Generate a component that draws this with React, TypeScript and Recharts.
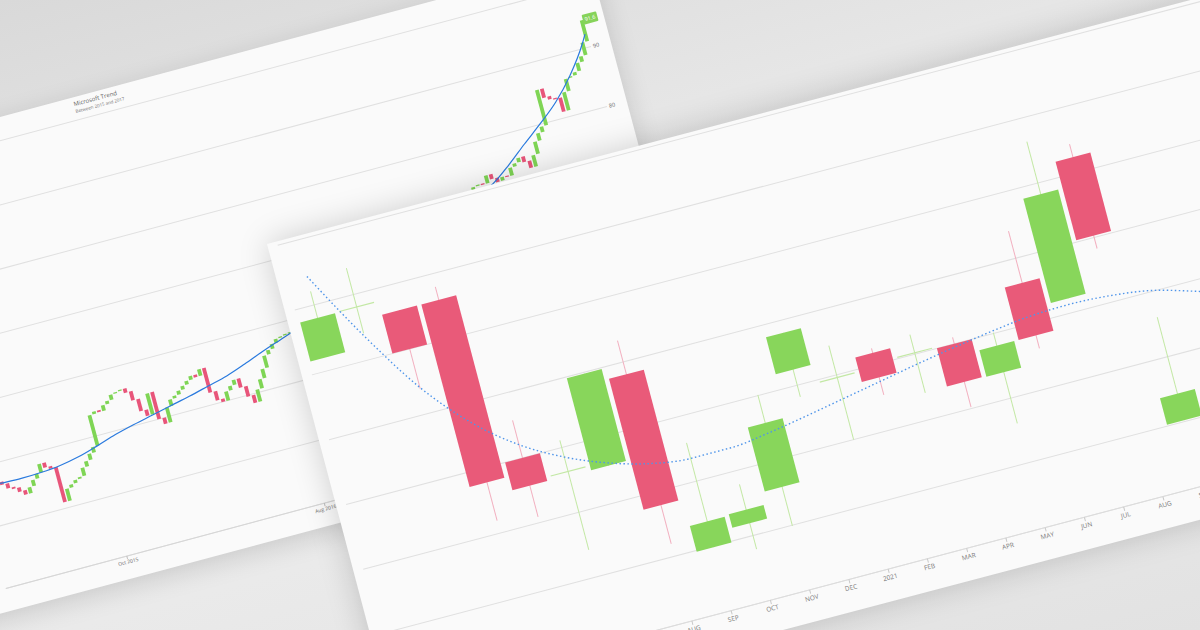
import React from 'react';
import { ComposedChart, Bar, Line, XAxis, YAxis, CartesianGrid, ReferenceLine } from 'recharts';

// ---- front chart: monthly candles, Jan 2020 .. Dec 2021 ----
const frontLabels = ['2020', 'FEB', 'MAR', 'APR', 'MAY', 'JUN', 'JUL', 'AUG', 'SEP', 'OCT', 'NOV', 'DEC',
  '2021', 'FEB', 'MAR', 'APR', 'MAY', 'JUN', 'JUL', 'AUG', 'SEP', 'OCT', 'NOV', 'DEC'];
const frontOpen = [52, 58.1, 56, 56, 30, 26.3, 25.6, 38.1, 9.8, 11.9, 15.9, 32.4, 29.6, 31.8, 30.2, 30, 24, 36.2, 32.2, 52.4, 10.2, null, null, null];
const frontClose = [58, 58.1, 50, 27.8, 25.7, 26.3, 39.8, 17.9, 13.8, 14, 25.8, 38.1, 29.6, 28, 30.2, 24.1, 28.1, 28.1, 48.3, 40.3, 14.3, null, null, null];
const frontHigh = [62.1, 64.1, 56, 58, 35.8, 31.1, 39.8, 43.3, 25.9, 17.9, 30.1, 38.1, 34.5, 32.5, 33, 31, 30.1, 44.2, 56.4, 54.4, 26.1, null, null, null];
const frontLow = [52, 54, 43.9, 21.9, 20.9, 14.2, 25.6, 11.9, 9.8, 7.9, 9.9, 28.2, 20, 25.3, 24, 20.2, 16.1, 26.1, 32.2, 38.3, 10.2, null, null, null];
const frontTrend = [64.4, 53.5, 44, 37, 32, 28.5, 26, 24.3, 23.5, 23.5, 24.2, 25.2, 26.3, 27.4, 28.5, 29.5, 30.4, 31.1, 31.3, 31, 30.2, 28.5, 26.5, 24];
const frontYTicks = [0, 10, 20, 30, 40, 50, 60, 70];

// ---- back chart: Microsoft, weekly closes (4 per month) from Apr 2015 ----
const backClose = [
  47.5, 46.5, 46.0, 46.8, 46.3, 45.5, 45.2, 44.5, 43.8, 44.8, 45.8, 46.6,
  48.0, 47.2, 46.8, 41.0, 43.0, 43.5, 44.0, 44.3, 45.6, 46.5, 47.5, 48.4,
  53.5, 53.9, 53.6, 54.5, 55.0, 55.8, 56.0, 56.2, 55.5, 54.0, 52.0, 51.0,
  54.5, 50.0, 49.0, 51.5, 52.6, 53.0, 53.6, 54.2, 54.8, 55.4, 55.0, 56.1,
  52.0, 50.5, 50.0, 51.5, 52.2, 53.0, 51.5, 49.8, 48.5, 50.5, 52.0, 53.5,
  55.5, 56.2, 57.0, 57.6, 57.8, 58.0, 58.1, 57.7, 57.3, 57.6, 57.0, 57.4,
  59.5, 60.0, 59.8, 60.5, 60.2, 60.6, 61.5, 62.0, 62.5, 62.8, 63.0, 62.5,
  64.0, 64.5, 64.0, 64.2, 64.0, 64.6, 65.0, 65.5, 65.2, 65.8, 67.5, 68.5,
  68.8, 69.0, 70.0, 69.5, 71.0, 71.5, 70.0, 69.8, 69.5, 70.5, 71.5, 72.5,
  73.0, 73.2, 73.0, 74.3, 73.5, 72.8, 73.4, 73.2, 74.5, 75.0, 75.7, 74.8,
  73.6, 75.5, 77.5, 78.7, 79.6, 85.5, 84.0, 83.5, 83.3, 81.0, 84.0, 86.0,
  86.2, 86.7, 88.0, 88.9, 91.0, 94.5,
];
// trend value at the start of each month (Apr 2015 .. Feb 2018), plus the last point
const backTrend = [46.7, 46.6, 46.5, 46.6, 46.9, 47.5, 48.4, 49.4, 50.2, 50.9, 51.6, 52.3, 53.1, 53.9, 55.0, 56.2,
  57.3, 58.4, 59.6, 60.8, 62.0, 63.3, 64.6, 65.9, 67.2, 68.5, 69.9, 71.3, 72.7, 75.0, 77.6, 80.1, 82.8, 86.3, 90.8];
const backTrendLast = 92.2;
const backTickIdx = [24, 64, 104];
const backTickLabels = ['Oct 2015', 'Aug 2016', 'Jun 2017'];
const backYTicks = [30, 40, 50, 60, 70, 80, 90, 100];
const backBadge = '91.6';

const GREEN = '#88d65b';
const RED = '#e95a79';

const frontData = frontLabels.map((label, i) => ({
  label,
  open: frontOpen[i],
  close: frontClose[i],
  high: frontHigh[i],
  low: frontLow[i],
  trend: frontTrend[i],
}));

const backData = backClose.map((close, i) => {
  const open = i === 0 ? close : backClose[i - 1];
  return {
    idx: i,
    open,
    close,
    high: Math.max(open, close),
    low: Math.min(open, close),
    trend: i === backClose.length - 1 ? backTrendLast : i % 4 === 0 ? backTrend[i / 4] : null,
  };
});

const range = (d: any) => (d.open == null ? null : [d.low, d.high]);

function FrontCandle(props: any) {
  const { x, y, width, height, payload } = props;
  if (!payload || payload.open == null) return null;
  const { open, close, high, low } = payload;
  const top = Math.min(y, y + height);
  const h = Math.abs(height);
  const span = high - low || 1;
  const py = (v: number) => top + ((high - v) / span) * h;
  const cx = x + width / 2;
  if (open === close) {
    return (
      <g>
        <line x1={cx} x2={cx} y1={py(high)} y2={py(low)} stroke="#c3e8a5" strokeWidth={1} />
        <line x1={x} x2={x + width} y1={py(open)} y2={py(open)} stroke="#c3e8a5" strokeWidth={1.2} />
      </g>
    );
  }
  const up = close > open;
  const bt = py(Math.max(open, close));
  const bb = py(Math.min(open, close));
  return (
    <g>
      <line x1={cx} x2={cx} y1={py(high)} y2={py(low)} stroke={up ? '#c3e8a5' : '#f2b0c0'} strokeWidth={1} />
      <rect x={x} y={bt} width={width} height={Math.max(1, bb - bt)} fill={up ? GREEN : RED} />
    </g>
  );
}

function BackCandle(props: any) {
  const { x, y, width, height, payload } = props;
  if (!payload) return null;
  const top = Math.min(y, y + height);
  const h = Math.max(1.2, Math.abs(height));
  const up = payload.close >= payload.open;
  return <rect x={x} y={top} width={width} height={h} fill={up ? '#7fd555' : '#e8557a'} />;
}

function Badge(props: any) {
  const vb = props.viewBox;
  if (!vb) return null;
  const bx = vb.x + vb.width - 1;
  const by = vb.y - 5;
  return (
    <g>
      <rect x={bx} y={by} width={15} height={10} rx={1} fill="#86d35a" />
      <text x={bx + 7.5} y={by + 7} fontSize={5.5} fill="#fff" textAnchor="middle" fontFamily='"Open Sans", sans-serif'>
        {backBadge}
      </text>
    </g>
  );
}

function FrontChart() {
  return (
    <ComposedChart width={1000.4} height={505} data={frontData} margin={{ top: 4, left: 10, right: 16, bottom: 12 }}>
      <CartesianGrid vertical={false} stroke="#e0e0e0" />
      <XAxis
        dataKey="label"
        interval={0}
        height={20}
        tickSize={4}
        tickMargin={2}
        axisLine={{ stroke: '#dcdcdc' }}
        tickLine={{ stroke: '#c8c8c8' }}
        tick={{ fontSize: 6.5, fill: '#777', fontFamily: '"Open Sans", sans-serif' }}
      />
      <YAxis hide domain={[0, 70]} ticks={frontYTicks} />
      <Bar dataKey={range} barSize={36} shape={FrontCandle} isAnimationActive={false} />
      <Line
        dataKey="trend"
        type="monotone"
        stroke="#4f95ea"
        strokeWidth={1.4}
        strokeDasharray="1.5 2.5"
        dot={false}
        isAnimationActive={false}
      />
    </ComposedChart>
  );
}

function BackChart() {
  return (
    <ComposedChart width={749.6} height={481} data={backData} margin={{ top: 23, left: 14.1, right: 10, bottom: 8 }}>
      <CartesianGrid vertical={false} stroke="#e0e0e0" />
      <XAxis
        dataKey="idx"
        ticks={backTickIdx}
        interval={0}
        height={16}
        tickSize={3}
        tickMargin={1}
        tickFormatter={(v: number) => backTickLabels[backTickIdx.indexOf(v)] ?? ''}
        axisLine={{ stroke: '#d6d6d6' }}
        tickLine={{ stroke: '#bdbdbd' }}
        tick={{ fontSize: 5, fill: '#666', fontFamily: '"Open Sans", sans-serif' }}
      />
      <YAxis
        orientation="right"
        domain={[30, 100]}
        ticks={backYTicks}
        width={20}
        axisLine={false}
        tickLine={false}
        tickSize={0}
        tickMargin={2}
        tick={{ fontSize: 5.5, fill: '#666', fontFamily: '"Open Sans", sans-serif' }}
      />
      <Bar dataKey={range} barSize={3.8} shape={BackCandle} isAnimationActive={false} />
      <Line dataKey="trend" type="monotone" stroke="#2a7ade" strokeWidth={1.2} dot={false} connectNulls isAnimationActive={false} />
      <ReferenceLine y={backClose[backClose.length - 1]} stroke="none" ifOverflow="visible" label={{ content: Badge }} />
    </ComposedChart>
  );
}

export default function App() {
  return (
    <div
      style={{
        position: 'fixed',
        left: 0,
        top: 0,
        width: 1200,
        height: 630,
        overflow: 'hidden',
        background: 'linear-gradient(165deg, #d9d9d9 0%, #e6e6e6 30%, #ececec 60%, #e2e2e2 100%)',
        fontFamily: '"Open Sans", sans-serif',
      }}
    >
      {/* back card */}
      <div style={{ position: 'absolute', left: 0, top: 118.6, transform: 'rotate(-15deg)', transformOrigin: '0 0' }}>
        <div
          style={{
            position: 'absolute',
            left: -400,
            top: -2,
            width: 1010,
            height: 480,
            background: '#fafafa',
            boxShadow: '0 6px 26px rgba(0,0,0,0.14)',
          }}
        >
          <div
            style={{
              position: 'absolute',
              left: 475,
              top: 3.5,
              fontSize: 12,
              color: '#666',
              whiteSpace: 'nowrap',
              lineHeight: 1,
              transform: 'scale(0.5)',
              transformOrigin: '0 0',
            }}
          >
            Microsoft Trend
          </div>
          <div
            style={{
              position: 'absolute',
              left: 475,
              top: 12,
              fontSize: 9,
              color: '#777',
              whiteSpace: 'nowrap',
              lineHeight: 1,
              transform: 'scale(0.5)',
              transformOrigin: '0 0',
            }}
          >
            Between 2015 and 2017
          </div>
          <div style={{ position: 'absolute', left: 270, top: 0 }}>
            <BackChart />
          </div>
        </div>
      </div>

      {/* front card */}
      <div style={{ position: 'absolute', left: 267, top: 244, transform: 'rotate(-14.8deg)', transformOrigin: '0 0' }}>
        <div
          style={{
            position: 'absolute',
            left: 0,
            top: 0,
            width: 1000.4,
            height: 505,
            background: '#fafafa',
            boxShadow: '0 0 32px rgba(0,0,0,0.18)',
          }}
        >
          <FrontChart />
        </div>
      </div>
    </div>
  );
}
